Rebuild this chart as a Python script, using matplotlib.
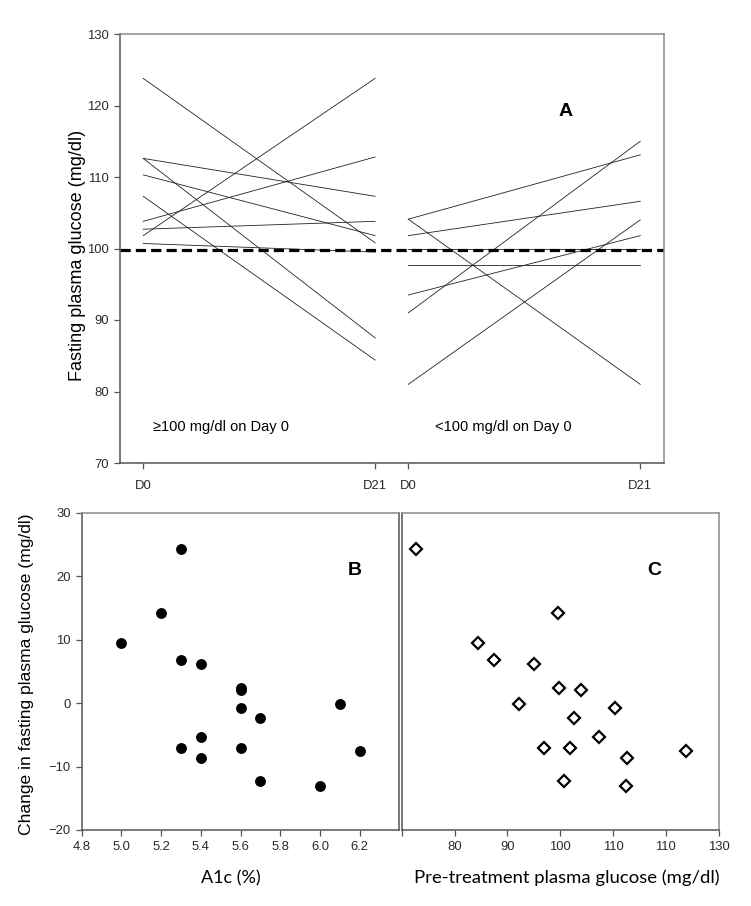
import matplotlib
matplotlib.use("Agg")
import matplotlib.pyplot as plt
import numpy as np

plt.rcParams['font.family'] = ['Liberation Sans', 'DejaVu Sans']

# ---------------- data ----------------
days = [0, 21]
day_labels = ["D0", "D21"]
# Panel A, group >=100 mg/dl on day 0
high_d0 = [123.8, 112.6, 112.6, 110.3, 107.3, 103.8, 102.7, 101.8, 100.7]
high_d21 = [100.8, 107.3, 87.5, 101.8, 84.4, 112.8, 103.8, 123.8, 99.5]
# Panel A, group <100 mg/dl on day 0
low_d0 = [104.1, 104.1, 101.8, 100.0, 97.7, 93.5, 91.0, 81.0]
low_d21 = [113.1, 81.0, 106.6, 100.0, 97.7, 101.8, 115.0, 104.0]
threshold = 99.8

# Panels B and C
change = [24.3, 14.2, 9.5, 6.8, 6.2, 2.4, 2.1, -0.8, -0.2, -2.4, -5.3,
          -7.0, -7.0, -7.5, -8.7, -12.2, -13.0]
a1c = [5.3, 5.2, 5.0, 5.3, 5.4, 5.6, 5.6, 5.6, 6.1, 5.7, 5.4, 5.3, 5.6,
       6.2, 5.4, 5.7, 6.0]
pretreat = [72.8, 99.5, 84.4, 87.5, 95.1, 99.8, 103.9, 110.4, 92.2, 102.6,
            107.4, 97.0, 101.8, 123.8, 112.7, 100.7, 112.5]

a_yticks = [70, 80, 90, 100, 110, 120, 130]
b_xticks = [4.8, 5.0, 5.2, 5.4, 5.6, 5.8, 6.0, 6.2]
bc_yticks = [-20, -10, 0, 10, 20, 30]
c_xticks = [70, 80, 90, 100, 110, 120, 130]
c_xticklabels = ["", "80", "90", "100", "110", "110", "130"]

# ---------------- figure ----------------
W, H = 751, 906
fig = plt.figure(figsize=(W / 100, H / 100), dpi=100)

def frac(l, r, t, b):
    return [l / W, 1 - b / H, (r - l) / W, (b - t) / H]

spine_dark = '#555555'
spine_light = '#8a8a8a'
tick_col = '#2a2a2a'
fs_tick = 9.4

def style_axes(ax):
    for s in ['left', 'bottom']:
        ax.spines[s].set_color(spine_dark)
        ax.spines[s].set_linewidth(1.1)
    for s in ['top', 'right']:
        ax.spines[s].set_color(spine_light)
        ax.spines[s].set_linewidth(1.1)
    ax.tick_params(direction='out', length=4.5, width=0.9, color=spine_dark,
                   labelsize=fs_tick, labelcolor=tick_col)

# Panel A
axA = fig.add_axes(frac(120, 664, 34, 463))
gap = 24  # offset of second group along x (layout)
for a, b in zip(high_d0, high_d21):
    axA.plot(days, [a, b], color='#222222', lw=0.6)
for a, b in zip(low_d0, low_d21):
    axA.plot([d + gap for d in days], [a, b], color='#222222', lw=0.6)
axA.axhline(threshold, color='black', lw=2.3, ls=(0, (3.2, 1.6)))
axA.set_xlim(-2.1, 21 + gap + 2.15)
axA.set_ylim(70, 130)
axA.set_yticks(a_yticks)
axA.set_xticks(days + [d + gap for d in days])
axA.set_xticklabels(day_labels + day_labels)
style_axes(axA)
axA.tick_params(axis='x', pad=8)
axA.text(38.2, 119.1, "A", fontsize=14, fontweight='bold', ha='center', va='center')
axA.text(0.9, 75.0, "\u2265100 mg/dl on Day 0", fontsize=10.5, ha='left', va='center')
axA.text(gap + 2.4, 75.0, "<100 mg/dl on Day 0", fontsize=10.5, ha='left', va='center')

# Panel B
axB = fig.add_axes(frac(81.7, 399.3, 512.7, 830))
axB.plot(a1c, change, 'o', color='black', ms=6.8)
axB.set_xlim(4.8, 6.4)
axB.set_ylim(-20, 30)
axB.set_xticks(b_xticks)
axB.set_xticklabels([f"{v:.1f}" for v in b_xticks])
axB.set_yticks(bc_yticks)
style_axes(axB)
axB.spines['right'].set_color(spine_dark)
axB.text(6.177, 20.86, "B", fontsize=14, fontweight='bold', ha='center', va='center')

# Panel C
axC = fig.add_axes(frac(401.7, 718.7, 512.7, 830))
axC.plot(pretreat, change, 'D', mfc='white', mec='black', mew=1.6, ms=6.3)
axC.set_xlim(70, 130)
axC.set_ylim(-20, 30)
axC.set_xticks(c_xticks)
axC.set_xticklabels(c_xticklabels)
axC.set_yticks([])
style_axes(axC)
axC.text(117.8, 20.86, "C", fontsize=14, fontweight='bold', ha='center', va='center')

# axis titles
fig.text(77 / W, 1 - 255 / H, "Fasting plasma glucose (mg/dl)", fontsize=13,
         rotation=90, ha='center', va='center')
fig.text(27 / W, 1 - 674 / H, "Change in fasting plasma glucose (mg/dl)", fontsize=12.6,
         rotation=90, ha='center', va='center')
fig.text(230.5 / W, 1 - 878 / H, "A1c (%)", fontsize=13,
         family=['Lato', 'DejaVu Sans'], ha='center', va='center')
fig.text(566.5 / W, 1 - 878 / H, "Pre-treatment plasma glucose (mg/dl)", fontsize=13.3,
         family=['Lato', 'DejaVu Sans'], ha='center', va='center')

fig.savefig("out.png", dpi=100)
